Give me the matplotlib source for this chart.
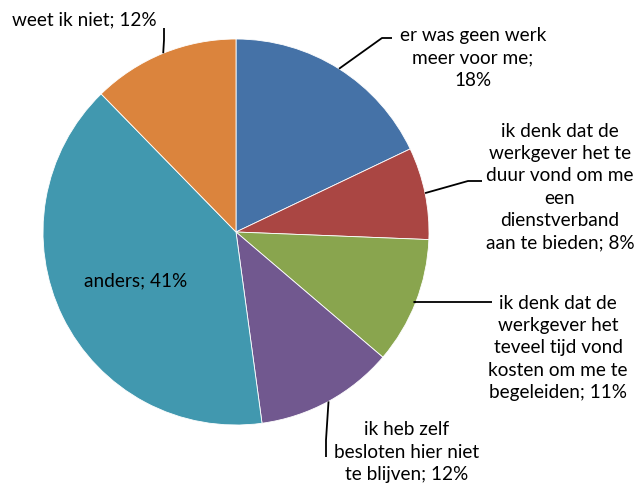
import numpy as np
import matplotlib
matplotlib.use("Agg")
import matplotlib.pyplot as plt

# slices clockwise from 12 o'clock
labels = ["er was geen werk\nmeer voor me;\n18%",
          "ik denk dat de\nwerkgever het te\nduur vond om me\neen\ndienstverband\naan te bieden; 8%",
          "ik denk dat de\nwerkgever het\nteveel tijd vond\nkosten om me te\nbegeleiden; 11%",
          "ik heb zelf\nbesloten hier niet\nte blijven; 12%",
          "anders; 41%",
          "weet ik niet; 12%"]
shares = [17.9, 7.7, 10.6, 11.6, 39.8, 12.3]
colors = ["#4572A7", "#AA4643", "#89A54E", "#71588F", "#4198AF", "#DB843D"]

W, H = 640, 488
fig = plt.figure(figsize=(6.4, 4.88), dpi=100)
ax = fig.add_axes([0, 0, 1, 1])

cx, cy, r = 236, H - 232, 193
wedges, _ = ax.pie(shares, colors=colors, startangle=90, counterclock=False,
                   center=(cx, cy), radius=r, frame=True,
                   wedgeprops=dict(edgecolor="white", linewidth=0.6))
ax.set_xlim(0, W)
ax.set_ylim(0, H)
ax.set_aspect("equal")
ax.axis("off")

font = dict(family=["Lato", "DejaVu Sans"], fontsize=13.7, color="black", linespacing=1.38)

# text centre (px), elbow point (px), text end of leader (px), alignment
layout = [
    ((473, 58), (382, 38), (392, 38), "center"),
    ((560, 187), (468, 181), (482, 181), "center"),
    ((558, 348), (414, 302), (492, 302), "center"),
    ((407, 452), (326, 440), (326, 457), "center"),
    ((136, 281), None, None, "center"),
    ((12, 20), (164, 40), (164, 28), "left"),
]

for w, lab, (tpos, elbow, end, ha) in zip(wedges, labels, layout):
    tx, ty = tpos
    ax.text(tx, H - ty, lab, ha=ha, va="center", **font)
    if elbow is None:
        continue
    mid = np.deg2rad((w.theta1 + w.theta2) / 2)
    ex, ey = cx + r * np.cos(mid), cy + r * np.sin(mid)
    ax.plot([ex, elbow[0], end[0]], [ey, H - elbow[1], H - end[1]],
            color="black", lw=1.3, solid_capstyle="butt")

fig.savefig("out.png", dpi=100)
